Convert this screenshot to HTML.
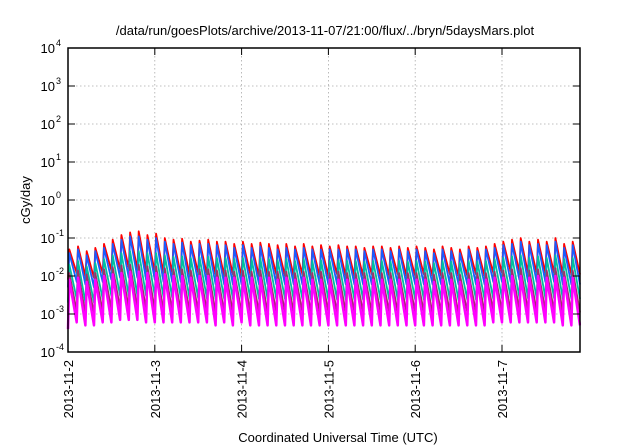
<!DOCTYPE html>
<html><head><meta charset="utf-8"><style>
body{margin:0;background:#fff;}
svg{display:block;font-family:"Liberation Sans",sans-serif;}
</style></head><body>
<svg id="chart" width="640" height="448" viewBox="0 0 640 448" xmlns="http://www.w3.org/2000/svg">
<rect x="0" y="0" width="640" height="448" fill="#fff"/>
<text x="325" y="35" font-size="13" text-anchor="middle" fill="#000">/data/run/goesPlots/archive/2013-11-07/21:00/flux/../bryn/5daysMars.plot</text>
<g id="grid"></g>
<g id="series"></g>
<g id="axes"></g>
<text transform="translate(30,200) rotate(-90)" font-size="13" text-anchor="middle">cGy/day</text>
<text x="338" y="442" font-size="13" text-anchor="middle">Coordinated Universal Time (UTC)</text>
</svg>
<script>
const dayLabels = ["2013-11-2","2013-11-3","2013-11-4","2013-11-5","2013-11-6","2013-11-7"];
const yExps = [-4,-3,-2,-1,0,1,2,3,4];
const toothStart = 0.0;
const toothPeriod = 0.1; // days
const seriesNames = ["red","blue","cyan","purple","magenta"];
const seriesColors = ["#ff0000","#1a5cff","#00c0a0","#a0306a","#ff00ff"];
const redPeaks = [0.05,0.06,0.045,0.055,0.07,0.09,0.12,0.14,0.15,0.12,0.13,0.10,0.09,0.095,0.08,0.085,0.09,0.08,0.08,0.07,0.08,0.07,0.075,0.07,0.065,0.07,0.06,0.07,0.06,0.065,0.06,0.065,0.06,0.06,0.055,0.06,0.06,0.055,0.06,0.055,0.06,0.055,0.05,0.06,0.055,0.05,0.06,0.055,0.06,0.07,0.08,0.09,0.10,0.08,0.09,0.08,0.10,0.07,0.08];
const redTroughs = [0.008,0.012,0.01,0.009,0.012,0.014,0.015,0.016,0.015,0.014,0.013,0.012,0.012,0.011,0.011,0.012,0.011,0.011,0.01,0.011,0.01,0.011,0.01,0.01,0.011,0.01,0.01,0.011,0.01,0.01,0.01,0.011,0.01,0.01,0.01,0.011,0.01,0.01,0.011,0.01,0.01,0.011,0.01,0.01,0.011,0.01,0.01,0.011,0.01,0.012,0.012,0.013,0.013,0.012,0.012,0.012,0.012,0.011,0.011];
const bluePeaks = [0.04,0.05,0.035,0.045,0.055,0.07,0.09,0.11,0.11,0.09,0.1,0.08,0.07,0.075,0.065,0.07,0.07,0.065,0.065,0.055,0.065,0.055,0.06,0.055,0.05,0.055,0.05,0.055,0.05,0.05,0.05,0.05,0.05,0.05,0.045,0.05,0.05,0.045,0.05,0.045,0.05,0.045,0.04,0.05,0.045,0.04,0.05,0.045,0.05,0.055,0.065,0.07,0.08,0.065,0.07,0.065,0.08,0.055,0.065];
const blueTroughs = [0.005,0.007,0.006,0.005,0.007,0.008,0.009,0.009,0.009,0.008,0.008,0.007,0.007,0.007,0.006,0.007,0.006,0.006,0.006,0.006,0.006,0.006,0.006,0.006,0.006,0.006,0.006,0.006,0.006,0.006,0.006,0.006,0.006,0.006,0.006,0.006,0.006,0.006,0.006,0.006,0.006,0.006,0.006,0.006,0.006,0.006,0.006,0.006,0.006,0.007,0.007,0.007,0.008,0.007,0.007,0.007,0.007,0.006,0.006];
const cyanPeaks = [0.02,0.025,0.018,0.022,0.028,0.035,0.04,0.045,0.045,0.04,0.04,0.035,0.032,0.033,0.03,0.031,0.032,0.03,0.03,0.028,0.03,0.028,0.029,0.028,0.026,0.028,0.025,0.028,0.025,0.026,0.025,0.026,0.025,0.025,0.024,0.025,0.025,0.024,0.025,0.024,0.025,0.024,0.022,0.025,0.024,0.022,0.025,0.024,0.025,0.028,0.03,0.033,0.035,0.03,0.033,0.03,0.035,0.028,0.03];
const cyanTroughs = [0.002,0.0025,0.002,0.002,0.0025,0.003,0.003,0.003,0.003,0.003,0.003,0.0028,0.0027,0.0027,0.0026,0.0026,0.0026,0.0025,0.0025,0.0025,0.0025,0.0025,0.0025,0.0025,0.0025,0.0025,0.0024,0.0025,0.0024,0.0024,0.0024,0.0024,0.0024,0.0024,0.0024,0.0024,0.0024,0.0024,0.0024,0.0024,0.0024,0.0024,0.0023,0.0024,0.0024,0.0023,0.0024,0.0024,0.0024,0.0025,0.0026,0.0027,0.0027,0.0026,0.0026,0.0026,0.0026,0.0025,0.0025];
const purplePeaks = [0.012,0.014,0.011,0.012,0.015,0.017,0.019,0.02,0.02,0.018,0.018,0.016,0.015,0.015,0.014,0.015,0.015,0.014,0.014,0.013,0.014,0.013,0.014,0.013,0.013,0.013,0.012,0.013,0.012,0.013,0.012,0.013,0.012,0.012,0.012,0.012,0.012,0.012,0.012,0.012,0.012,0.012,0.011,0.012,0.012,0.011,0.012,0.012,0.012,0.013,0.014,0.015,0.016,0.014,0.015,0.014,0.016,0.013,0.014];
const purpleTroughs = [0.0009,0.0012,0.001,0.001,0.0012,0.0013,0.0014,0.0014,0.0014,0.0013,0.0013,0.0012,0.0012,0.0012,0.0012,0.0012,0.0012,0.0011,0.0011,0.0011,0.0011,0.0011,0.0011,0.0011,0.0011,0.0011,0.0011,0.0011,0.0011,0.0011,0.0011,0.0011,0.0011,0.0011,0.0011,0.0011,0.0011,0.0011,0.0011,0.0011,0.0011,0.0011,0.001,0.0011,0.0011,0.001,0.0011,0.0011,0.0011,0.0012,0.0012,0.0012,0.0013,0.0012,0.0012,0.0012,0.0012,0.0011,0.0011];
const magentaPeaks = [0.008,0.009,0.007,0.008,0.01,0.011,0.012,0.013,0.013,0.012,0.012,0.011,0.01,0.01,0.009,0.01,0.01,0.009,0.009,0.009,0.009,0.009,0.009,0.009,0.008,0.009,0.008,0.009,0.008,0.008,0.008,0.008,0.008,0.008,0.008,0.008,0.008,0.008,0.008,0.008,0.008,0.008,0.007,0.008,0.008,0.007,0.008,0.008,0.008,0.009,0.009,0.01,0.01,0.009,0.01,0.009,0.01,0.009,0.009];
const magentaTroughs = [0.0004,0.0006,0.0005,0.0005,0.0006,0.0006,0.0007,0.0007,0.0007,0.0006,0.0006,0.0006,0.0006,0.0006,0.0006,0.0006,0.0006,0.0005,0.0006,0.0005,0.0006,0.0005,0.0005,0.0005,0.0005,0.0005,0.0005,0.0005,0.0005,0.0005,0.0005,0.0005,0.0005,0.0005,0.0005,0.0005,0.0005,0.0005,0.0005,0.0005,0.0005,0.0005,0.0005,0.0005,0.0005,0.0005,0.0005,0.0005,0.0005,0.0006,0.0006,0.0006,0.0006,0.0006,0.0006,0.0006,0.0006,0.0005,0.0005];
const peaks = [redPeaks,bluePeaks,cyanPeaks,purplePeaks,magentaPeaks];
const troughs = [redTroughs,blueTroughs,cyanTroughs,purpleTroughs,magentaTroughs];

const L=68,R=580,T=48,B=352, dayPx=86.8, tMax=(R-L)/dayPx;
const xs = t => L + t*dayPx;
const ys = v => B - (Math.log10(v)+4)*(B-T)/8;
const NS="http://www.w3.org/2000/svg";
function mk(tag,attrs,parent){const e=document.createElementNS(NS,tag);for(const k in attrs)e.setAttribute(k,attrs[k]);parent.appendChild(e);return e;}
const grid=document.getElementById('grid'), axes=document.getElementById('axes'), ser=document.getElementById('series');

yExps.forEach(e=>{
  const y=ys(Math.pow(10,e));
  if(e>-4&&e<4){const g=mk('line',{x1:L,x2:R,y1:y,y2:y,stroke:'#aaa','stroke-width':0.8,'stroke-dasharray':'1.5,2.5'},grid);
  
  }
  const tk=mk('path',{d:`M${L},${y}h7M${R},${y}h-7`,stroke:'#000','stroke-width':1},axes);
  
  
  const tx=mk('text',{x:L-13,y:y+5,'font-size':13,'text-anchor':'end'},axes);
  
  
  tx.textContent='10';
  const sp=mk('text',{x:L-12,y:y-2,'font-size':9},axes);
  sp.textContent=String(e);
  
  
});
dayLabels.forEach((lab,i)=>{
  const x=xs(i);
  if(i>0){const g=mk('line',{x1:x,x2:x,y1:T,y2:B,stroke:'#aaa','stroke-width':0.8,'stroke-dasharray':'1.5,2.5'},grid);
  
  }
  const tk=mk('path',{d:`M${x},${B}v-7M${x},${T}v7`,stroke:'#000','stroke-width':1},axes);
  
  
  const tx=mk('text',{transform:`translate(${x+5},${B+8}) rotate(-90)`,'font-size':13,'text-anchor':'end'},axes);
  tx.textContent=lab;
  
  
});
const fr=mk('rect',{x:L,y:T,width:R-L,height:B-T,fill:'none',stroke:'#000','stroke-width':1.5},axes);



seriesNames.forEach((nm,s)=>{
  const pk=peaks[s], tr=troughs[s];
  let pts=[];
  for(let i=0;i<pk.length;i++){
    const t0=toothStart+i*toothPeriod;
    pts.push([t0,tr[i]]);
    pts.push([t0+toothPeriod*0.15,pk[i]]);
  }
  pts.push([toothStart+pk.length*toothPeriod,tr[tr.length-1]]);
  const d=pts.filter(p=>p[0]<=tMax+0.05).map((p,j)=>(j?'L':'M')+xs(Math.min(p[0],tMax)).toFixed(1)+','+ys(p[1]).toFixed(1)).join('');
  const w = s===4?2.5:1.8;
  const p=mk('path',{d:d,fill:'none',stroke:seriesColors[s],'stroke-width':w,'stroke-linejoin':'round'},ser);
  
  
});
mk('rect',{x:R+1,y:T,width:60,height:B-T,fill:'#fff'},ser);
</script>
</body></html>
